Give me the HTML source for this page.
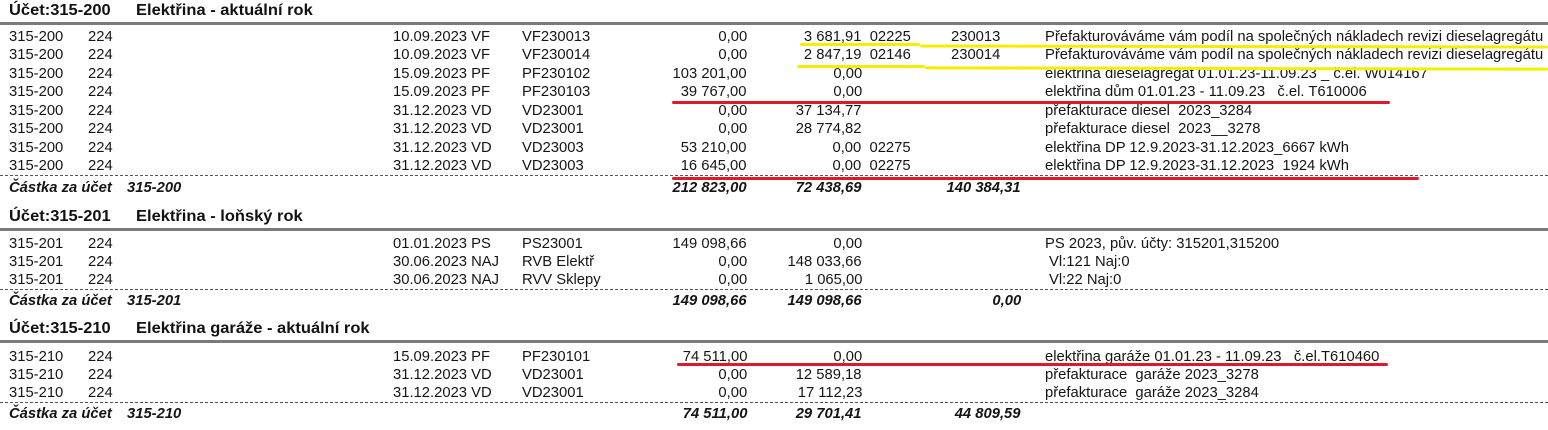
<!DOCTYPE html>
<html><head><meta charset="utf-8">
<style>
html,body{margin:0;padding:0;background:#fff;width:1548px;height:430px;overflow:hidden;position:relative}
div.t{position:absolute;font-family:"Liberation Sans",Arial,sans-serif;font-size:14.5px;line-height:16px;color:#151515;white-space:nowrap;transform:scaleX(1.02);transform-origin:left center}
div.r{transform-origin:right center;text-align:right}
.bi{font-weight:bold;font-style:italic}
div.h{font-size:16px;font-weight:bold;color:#111;transform:scaleX(1.03)}
.gl{position:absolute;left:0;width:1548px;height:3px;background:#7a7a7a}
.dl{position:absolute;left:0;width:1548px;height:0;border-top:1.5px dashed #555}
.red{position:absolute;height:3px;background:#e0192a;border-radius:2px}
.yel{position:absolute;height:3px;background:#f5ee00;border-radius:2px}
</style></head><body>

<div class="t h" style="left:9px;top:3px">Účet:315-200</div>
<div class="t h" style="left:136px;top:3px">Elektřina - aktuální rok</div>
<div class="gl" style="top:22px"></div>

<div class="t" style="left:9px;top:29px">315-200</div><div class="t" style="left:88px;top:29px">224</div><div class="t" style="left:393px;top:29px">10.09.2023 VF</div><div class="t" style="left:522px;top:29px">VF230013</div><div class="t r" style="right:801px;top:29px">0,00</div><div class="t r" style="right:637px;top:29px">3 681,91&nbsp; 02225</div><div class="t" style="left:951px;top:29px">230013</div><div class="t" style="left:1045px;top:29px">Přefakturováváme vám podíl na společných nákladech revizi dieselagregátu</div>

<div class="t" style="left:9px;top:47px">315-200</div><div class="t" style="left:88px;top:47px">224</div><div class="t" style="left:393px;top:47px">10.09.2023 VF</div><div class="t" style="left:522px;top:47px">VF230014</div><div class="t r" style="right:801px;top:47px">0,00</div><div class="t r" style="right:637px;top:47px">2 847,19&nbsp; 02146</div><div class="t" style="left:951px;top:47px">230014</div><div class="t" style="left:1045px;top:47px">Přefakturováváme vám podíl na společných nákladech revizi dieselagregátu</div>

<div class="t" style="left:9px;top:66px">315-200</div><div class="t" style="left:88px;top:66px">224</div><div class="t" style="left:393px;top:66px">15.09.2023 PF</div><div class="t" style="left:522px;top:66px">PF230102</div><div class="t r" style="right:801px;top:66px">103 201,00</div><div class="t r" style="right:686px;top:66px">0,00</div><div class="t" style="left:1045px;top:66px">elektřina dieselagregát 01.01.23-11.09.23 _ č.el. W014167</div>

<div class="t" style="left:9px;top:84px">315-200</div><div class="t" style="left:88px;top:84px">224</div><div class="t" style="left:393px;top:84px">15.09.2023 PF</div><div class="t" style="left:522px;top:84px">PF230103</div><div class="t r" style="right:801px;top:84px">39 767,00</div><div class="t r" style="right:686px;top:84px">0,00</div><div class="t" style="left:1045px;top:84px">elektřina dům 01.01.23 - 11.09.23 &nbsp;&nbsp;č.el. T610006</div>

<div class="t" style="left:9px;top:103px">315-200</div><div class="t" style="left:88px;top:103px">224</div><div class="t" style="left:393px;top:103px">31.12.2023 VD</div><div class="t" style="left:522px;top:103px">VD23001</div><div class="t r" style="right:801px;top:103px">0,00</div><div class="t r" style="right:686px;top:103px">37 134,77</div><div class="t" style="left:1045px;top:103px">přefakturace diesel &nbsp;2023_3284</div>

<div class="t" style="left:9px;top:121px">315-200</div><div class="t" style="left:88px;top:121px">224</div><div class="t" style="left:393px;top:121px">31.12.2023 VD</div><div class="t" style="left:522px;top:121px">VD23001</div><div class="t r" style="right:801px;top:121px">0,00</div><div class="t r" style="right:686px;top:121px">28 774,82</div><div class="t" style="left:1045px;top:121px">přefakturace diesel &nbsp;2023__3278</div>

<div class="t" style="left:9px;top:140px">315-200</div><div class="t" style="left:88px;top:140px">224</div><div class="t" style="left:393px;top:140px">31.12.2023 VD</div><div class="t" style="left:522px;top:140px">VD23003</div><div class="t r" style="right:801px;top:140px">53 210,00</div><div class="t r" style="right:637px;top:140px">0,00&nbsp; 02275</div><div class="t" style="left:1045px;top:140px">elektřina DP 12.9.2023-31.12.2023_6667 kWh</div>

<div class="t" style="left:9px;top:158px">315-200</div><div class="t" style="left:88px;top:158px">224</div><div class="t" style="left:393px;top:158px">31.12.2023 VD</div><div class="t" style="left:522px;top:158px">VD23003</div><div class="t r" style="right:801px;top:158px">16 645,00</div><div class="t r" style="right:637px;top:158px">0,00&nbsp; 02275</div><div class="t" style="left:1045px;top:158px">elektřina DP 12.9.2023-31.12.2023 &nbsp;1924 kWh</div>
<div class="dl" style="top:175px"></div>

<div class="t bi" style="left:9px;top:180px">Částka za účet</div><div class="t bi" style="left:127px;top:180px">315-200</div><div class="t r bi" style="right:801px;top:180px">212 823,00</div><div class="t r bi" style="right:686px;top:180px">72 438,69</div><div class="t r bi" style="right:527px;top:180px">140 384,31</div>

<div class="yel" style="left:800px;top:43px;width:120px"></div>
<div class="yel" style="left:920px;top:45px;width:628px;transform:rotate(0.1deg)"></div>
<div class="yel" style="left:797px;top:65px;width:128px"></div>
<div class="yel" style="left:925px;top:67px;width:623px;transform:rotate(0.12deg)"></div>
<div class="red" style="left:672px;top:101px;width:718px"></div>
<div class="red" style="left:672px;top:177px;width:747px"></div>

<div class="t h" style="left:9px;top:209px">Účet:315-201</div>
<div class="t h" style="left:136px;top:209px">Elektřina - loňský rok</div>
<div class="gl" style="top:228px"></div>

<div class="t" style="left:9px;top:236px">315-201</div><div class="t" style="left:88px;top:236px">224</div><div class="t" style="left:393px;top:236px">01.01.2023 PS</div><div class="t" style="left:522px;top:236px">PS23001</div><div class="t r" style="right:801px;top:236px">149 098,66</div><div class="t r" style="right:686px;top:236px">0,00</div><div class="t" style="left:1045px;top:236px">PS 2023, pův. účty: 315201,315200</div>

<div class="t" style="left:9px;top:254px">315-201</div><div class="t" style="left:88px;top:254px">224</div><div class="t" style="left:393px;top:254px">30.06.2023 NAJ</div><div class="t" style="left:522px;top:254px">RVB Elektř</div><div class="t r" style="right:801px;top:254px">0,00</div><div class="t r" style="right:686px;top:254px">148 033,66</div><div class="t" style="left:1049px;top:254px">Vl:121 Naj:0</div>

<div class="t" style="left:9px;top:272px">315-201</div><div class="t" style="left:88px;top:272px">224</div><div class="t" style="left:393px;top:272px">30.06.2023 NAJ</div><div class="t" style="left:522px;top:272px">RVV Sklepy</div><div class="t r" style="right:801px;top:272px">0,00</div><div class="t r" style="right:686px;top:272px">1 065,00</div><div class="t" style="left:1049px;top:272px">Vl:22 Naj:0</div>
<div class="dl" style="top:289px"></div>

<div class="t bi" style="left:9px;top:293px">Částka za účet</div><div class="t bi" style="left:127px;top:293px">315-201</div><div class="t r bi" style="right:801px;top:293px">149 098,66</div><div class="t r bi" style="right:686px;top:293px">149 098,66</div><div class="t r bi" style="right:527px;top:293px">0,00</div>

<div class="t h" style="left:9px;top:321px">Účet:315-210</div>
<div class="t h" style="left:136px;top:321px">Elektřina garáže - aktuální rok</div>
<div class="gl" style="top:340px"></div>

<div class="t" style="left:9px;top:349px">315-210</div><div class="t" style="left:88px;top:349px">224</div><div class="t" style="left:393px;top:349px">15.09.2023 PF</div><div class="t" style="left:522px;top:349px">PF230101</div><div class="t r" style="right:801px;top:349px">74 511,00</div><div class="t r" style="right:686px;top:349px">0,00</div><div class="t" style="left:1045px;top:349px">elektřina garáže 01.01.23 - 11.09.23 &nbsp;&nbsp;č.el.T610460</div>

<div class="t" style="left:9px;top:367px">315-210</div><div class="t" style="left:88px;top:367px">224</div><div class="t" style="left:393px;top:367px">31.12.2023 VD</div><div class="t" style="left:522px;top:367px">VD23001</div><div class="t r" style="right:801px;top:367px">0,00</div><div class="t r" style="right:686px;top:367px">12 589,18</div><div class="t" style="left:1045px;top:367px">přefakturace &nbsp;garáže 2023_3278</div>

<div class="t" style="left:9px;top:385px">315-210</div><div class="t" style="left:88px;top:385px">224</div><div class="t" style="left:393px;top:385px">31.12.2023 VD</div><div class="t" style="left:522px;top:385px">VD23001</div><div class="t r" style="right:801px;top:385px">0,00</div><div class="t r" style="right:686px;top:385px">17 112,23</div><div class="t" style="left:1045px;top:385px">přefakturace &nbsp;garáže 2023_3284</div>
<div class="dl" style="top:402px"></div>

<div class="t bi" style="left:9px;top:406px">Částka za účet</div><div class="t bi" style="left:127px;top:406px">315-210</div><div class="t r bi" style="right:801px;top:406px">74 511,00</div><div class="t r bi" style="right:686px;top:406px">29 701,41</div><div class="t r bi" style="right:527px;top:406px">44 809,59</div>

<div class="red" style="left:677px;top:363px;width:711px"></div>

</body></html>
